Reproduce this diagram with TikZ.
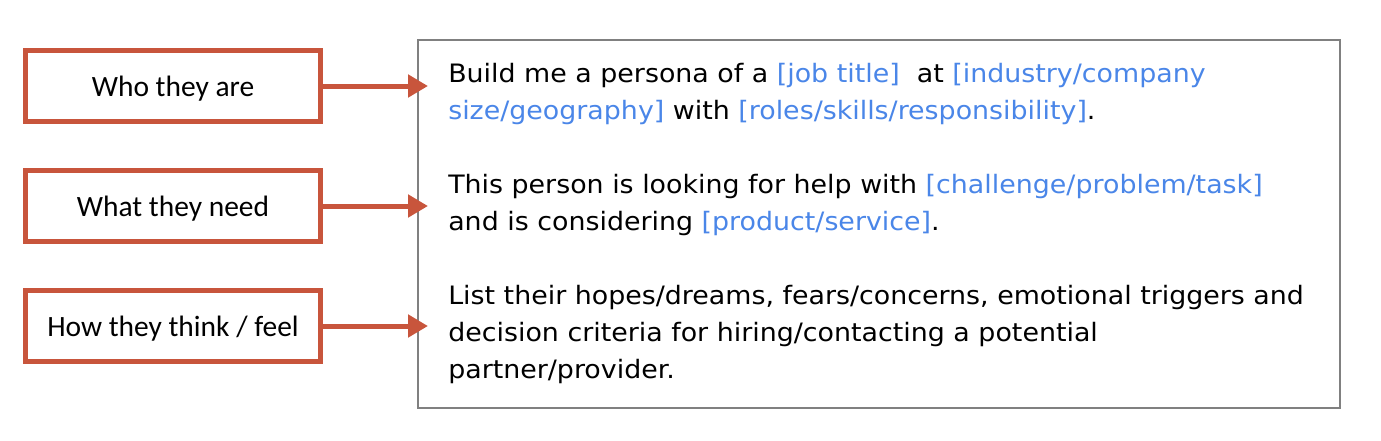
\documentclass[tikz,border=0pt]{standalone}
\usepackage{fontspec}
\setmainfont[FakeStretch=1.06]{DejaVu Sans}
\newfontfamily\calibri{Carlito}
\usepackage{xcolor}
\usetikzlibrary{arrows.meta}

\definecolor{rust}{RGB}{200,85,60}
\definecolor{fieldblue}{RGB}{74,134,232}
\definecolor{framegray}{RGB}{128,128,128}
\newcommand{\fld}[1]{\textcolor{fieldblue}{#1}}

\tikzset{
  tag/.style={draw=rust, line width=3.75pt, minimum width=221.25pt,
    minimum height=53.25pt, inner sep=0pt, text depth=0pt,
    font=\calibri\fontsize{22.1}{26}\selectfont},
  feed/.style={draw=rust, line width=3.75pt,
    -{Triangle[length=15pt,width=16.5pt]}},
  panel/.style={draw=framegray, line width=1.1pt, minimum width=691.5pt,
    minimum height=276pt, inner sep=0pt},
  para/.style={anchor=base west, align=left, inner sep=0pt,
    font=\fontsize{19}{27.4}\selectfont}
}

\begin{document}
\begin{tikzpicture}[x=0.75pt,y=-0.75pt]
      \useasboundingbox (0,0) rectangle (1381,440);
      \node[panel] (frame) at (879,224) {};
      \coordinate (tips) at (428,0);
      % left side
      \node[tag] (who)  at (173,86)  {Who they are};
      \node[tag] (need) at (173,206) {What they need};
      \node[tag] (feel) at (173,326) {How they think / feel};
      \draw[feed] (who.east)  -- (who.east -| tips);
      \draw[feed] (need.east) -- (need.east -| tips);
      \draw[feed] (feel.east) -- (feel.east -| tips);
      % prompt text (placed by the baseline of the last line)
      \node[para] (p1) at (448,119.5)
        {Build me a persona of a \fld{[job title]}\ \ at \fld{[industry/company}\\
         \fld{size/geography]} with \fld{[roles/skills/responsibility]}.};
      \node[para] (p2) at (448,230.5)
        {This person is looking for help with \fld{[challenge/problem/task]}\\
         and is considering \fld{[product/service]}.};
      \node[para] (p3) at (448,378)
        {List their hopes/dreams, fears/concerns, emotional triggers and\\
         decision criteria for hiring/contacting a potential\\
         partner/provider.};
\end{tikzpicture}
\end{document}
